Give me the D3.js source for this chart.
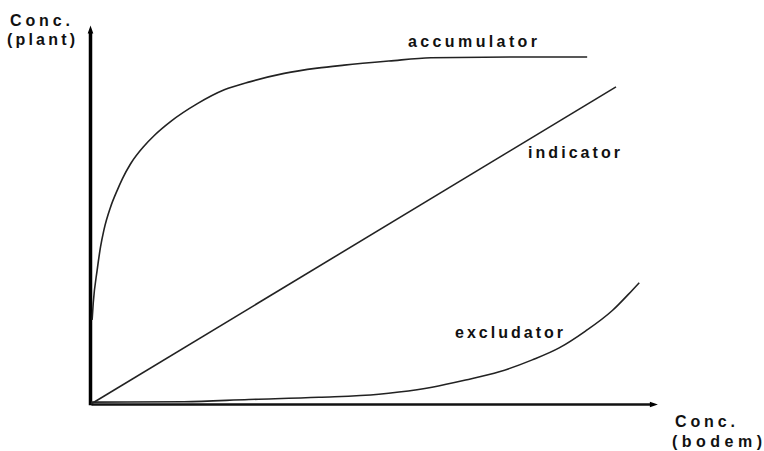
<!DOCTYPE html>
<html>
<head>
<meta charset="utf-8">
<script src="https://cdn.jsdelivr.net/npm/d3@7"></script>
<style>
  body { margin: 0; background: #fff; }
  svg text { font-family: "Liberation Sans", Arial, sans-serif; font-weight: bold; font-size: 16px; fill: #111; }
</style>
</head>
<body>
<svg width="764" height="451"></svg>
<script>
// curves (x = soil conc., y = plant conc., 0..100)
var accumulator = [
  [0.2, 22.5], [0.4, 27], [1.1, 35.8], [1.7, 42], [2.3, 46.5], [3.5, 52.7],
  [4.7, 57.2], [5.6, 60.2], [7.1, 64.3], [9.5, 69.0], [11.3, 71.8], [14.2, 75.5],
  [19, 80.3], [23.8, 84], [28.5, 86.2], [34.5, 88.4], [40.4, 89.8], [45.2, 90.6],
  [53.2, 91.7], [60.7, 92.6], [75, 92.8], [88.6, 92.8]
];
var indicator = [[0, 0], [93.75, 84.8]];
var excludator = [
  [0, 0.5], [16.6, 0.6], [28.2, 1.2], [40.7, 1.8], [51.4, 2.6], [55, 3.2],
  [60.9, 4.5], [66.9, 6.4], [72.9, 8.6], [78.8, 11.8], [83.6, 15], [88.3, 19.5],
  [93.1, 25.0], [96.7, 30.5], [97.9, 32.4]
];
var curveNames = ['accumulator', 'indicator', 'excludator'];
var xAxisLabel = ['Conc.', '(bodem)'];
var yAxisLabel = ['Conc.', '(plant)'];

var svg = d3.select('svg');

var x = d3.scaleLinear().domain([0, 100]).range([91, 651]);
var y = d3.scaleLinear().domain([0, 100]).range([404, 30]);

var line = d3.line()
    .x(function(d) { return x(d[0]); })
    .y(function(d) { return y(d[1]); })
    .curve(d3.curveMonotoneX);

// arrowheads
var defs = svg.append('defs');
defs.append('marker')
    .attr('id', 'arrow')
    .attr('viewBox', '0 0 10 10')
    .attr('refX', 2).attr('refY', 5)
    .attr('markerWidth', 10).attr('markerHeight', 8)
    .attr('markerUnits', 'userSpaceOnUse')
    .attr('orient', 'auto')
  .append('path')
    .attr('d', 'M0,1.5 L10,5 L0,8.5 Z')
    .attr('fill', '#000');

// axes without ticks, only the domain line
var xAxis = svg.append('g')
    .attr('transform', 'translate(0,' + y(0) + ')')
    .call(d3.axisBottom(x).tickValues([]).tickSizeOuter(0));
xAxis.select('.domain')
    .attr('stroke', '#111').attr('stroke-width', 2.5)
    .attr('marker-end', 'url(#arrow)');

var yAxis = svg.append('g')
    .attr('transform', 'translate(' + (x(0) - 0.5) + ',0)')
    .call(d3.axisLeft(y).tickValues([]).tickSizeOuter(0));
yAxis.select('.domain')
    .attr('d', 'M0,' + (y(0) + 1.2) + 'V' + (y(100) + 2))
    .attr('stroke', '#000').attr('stroke-width', 3.5)
    .attr('marker-end', 'url(#arrow)');

var curves = [accumulator, indicator, excludator];
svg.selectAll('path.curve')
    .data(curves)
  .enter().append('path')
    .attr('class', 'curve')
    .attr('d', line)
    .attr('fill', 'none')
    .attr('stroke', '#222')
    .attr('stroke-width', 1.6);

// labels
var labels = [
  { text: curveNames[0], x: 408, y: 47, w: 129 },
  { text: curveNames[1], x: 528, y: 158, w: 92 },
  { text: curveNames[2], x: 455, y: 338, w: 108 },
  { text: yAxisLabel[0], x: 10, y: 26, w: 60 },
  { text: yAxisLabel[1], x: 7, y: 45, w: 68 },
  { text: xAxisLabel[0], x: 675, y: 427, w: 60 },
  { text: xAxisLabel[1], x: 672, y: 447, w: 90 }
];
svg.selectAll('text.lbl')
    .data(labels)
  .enter().append('text')
    .attr('class', 'lbl')
    .attr('x', function(d) { return d.x; })
    .attr('y', function(d) { return d.y; })
    .attr('textLength', function(d) { return d.w; })
    .attr('lengthAdjust', 'spacing')
    .text(function(d) { return d.text; });
</script>
</body>
</html>
